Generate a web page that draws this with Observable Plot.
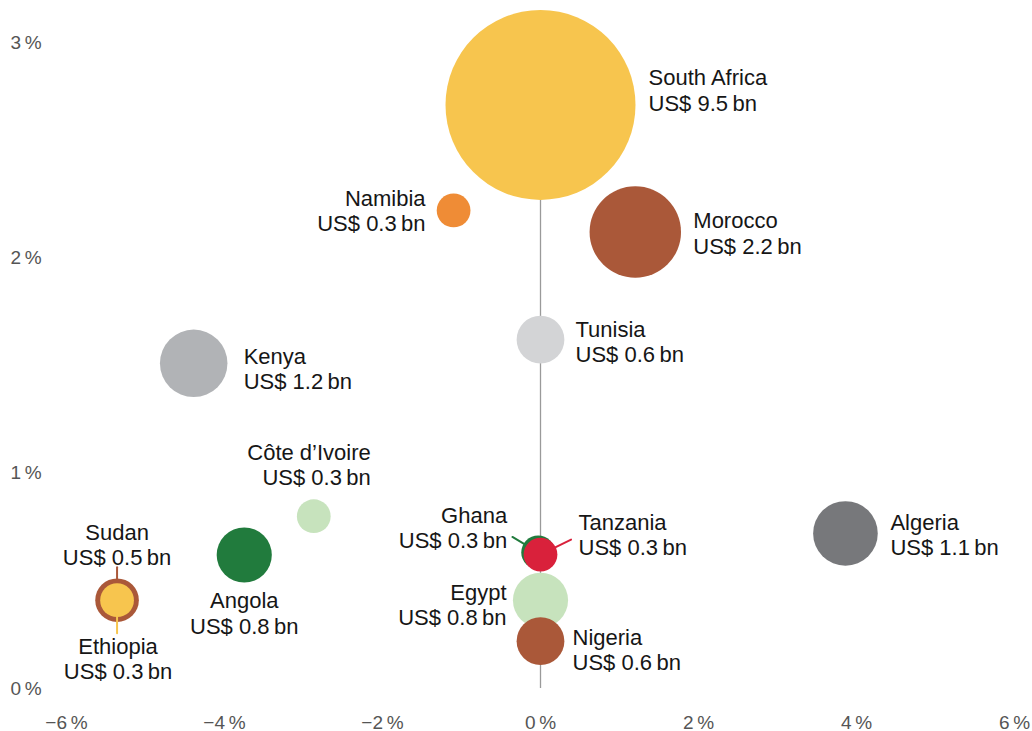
<!DOCTYPE html>
<html>
<head>
<meta charset="utf-8">
<script src="https://cdn.jsdelivr.net/npm/d3@7"></script>
<script src="https://cdn.jsdelivr.net/npm/@observablehq/plot@0.6"></script>
<style>
  html, body { margin: 0; padding: 0; background: #fff; overflow: hidden; }
  #chart svg { display: block; }
</style>
</head>
<body>
<div id="chart"></div>
<script>
// ---- data ----
const countries = ["South Africa", "Morocco", "Namibia", "Tunisia", "Kenya", "Algeria",
  "Côte d’Ivoire", "Angola", "Sudan", "Ethiopia", "Ghana", "Tanzania", "Egypt", "Nigeria"];
const growth = [0, 1.2, -1.1, 0, -4.39, 3.86, -2.87, -3.75, -5.36, -5.36, -0.03, 0, 0, 0];
const share = [2.71, 2.12, 2.22, 1.62, 1.51, 0.72, 0.80, 0.62, 0.41, 0.41, 0.632, 0.622, 0.41, 0.22];
const investment = [9.5, 2.2, 0.3, 0.6, 1.2, 1.1, 0.3, 0.8, 0.5, 0.3, 0.3, 0.3, 0.8, 0.6];
const xTicks = [-6, -4, -2, 0, 2, 4, 6];
const yTicks = [0, 1, 2, 3];

// ---- styles ----
const palette = {
  "South Africa": "#f7c54e", "Morocco": "#aa5839", "Namibia": "#ef8c36", "Tunisia": "#d3d4d6",
  "Kenya": "#b1b3b6", "Algeria": "#77787b", "Côte d’Ivoire": "#c7e3bd", "Angola": "#217b3d",
  "Sudan": "#aa5839", "Ethiopia": "#f7c54e", "Ghana": "#217b3d", "Tanzania": "#d9213b",
  "Egypt": "#c7e3bd", "Nigeria": "#aa5839"
};
const labelLayout = {
  "South Africa": {dx: 108, dy: -15, textAnchor: "start"},
  "Morocco": {dx: 58, dy: 1, textAnchor: "start"},
  "Namibia": {dx: -28, dy: 0, textAnchor: "end"},
  "Tunisia": {dx: 35, dy: 2, textAnchor: "start"},
  "Kenya": {dx: 50, dy: 5, textAnchor: "start"},
  "Algeria": {dx: 45, dy: 1, textAnchor: "start"},
  "Côte d’Ivoire": {dx: 57, dy: -52, textAnchor: "end"},
  "Angola": {dx: 0, dy: 58, textAnchor: "middle"},
  "Sudan": {dx: 0, dy: -56, textAnchor: "middle"},
  "Ethiopia": {dx: 1, dy: 58, textAnchor: "middle"},
  "Ghana": {dx: -31, dy: -25, textAnchor: "end"},
  "Tanzania": {dx: 38, dy: -20, textAnchor: "start"},
  "Egypt": {dx: -34, dy: 4, textAnchor: "end"},
  "Nigeria": {dx: 32, dy: 8, textAnchor: "start"}
};
const leaders = {
  "Sudan": {rotate: 0, length: 33},
  "Ethiopia": {rotate: 180, length: 33},
  "Ghana": {rotate: -59, length: 30},
  "Tanzania": {rotate: 64, length: 34}
};
const lineShape = {draw(ctx, l) { ctx.moveTo(0, 0); ctx.lineTo(0, -l); }};

const data = countries.map((c, i) => ({country: c, x: growth[i], y: share[i], v: investment[i]}));
const largest = data.find(d => d.country === "South Africa");

const fmt = d => `${d < 0 ? "\u2212" : ""}${Math.abs(d)}\u2009%`;

const marks = [
  Plot.ruleX([0], {y1: 0, y2: largest.y, stroke: "#9a9a9a", strokeWidth: 1.3})
];
for (const d of data) {
  const L = leaders[d.country];
  if (L) {
    marks.push(Plot.vector([d], {x: "x", y: "y", anchor: "start", length: L.length, rotate: L.rotate,
      shape: lineShape, stroke: palette[d.country], strokeWidth: 2}));
  }
  marks.push(Plot.dot([d], {x: "x", y: "y", r: "v", fill: palette[d.country], stroke: "none"}));
}
for (const d of data) {
  const lay = labelLayout[d.country];
  marks.push(Plot.text([d], {
    x: "x", y: "y",
    text: e => `${e.country}\nUS$ ${e.v.toFixed(1)}\u2009bn`,
    dx: lay.dx, dy: lay.dy, textAnchor: lay.textAnchor,
    lineAnchor: "middle", lineHeight: 1.15, fontSize: 22, fill: "#161616"
  }));
}
marks.push(Plot.axisX(xTicks, {tickSize: 0, tickPadding: 27, tickFormat: fmt, fontSize: 19, color: "#555", label: null}));
marks.push(Plot.axisY(yTicks, {anchor: "left", tickSize: 0, tickPadding: 0, textAnchor: "start", dx: -56,
  tickFormat: fmt, fontSize: 19, color: "#555", label: null}));

const chart = Plot.plot({
  width: 1032, height: 731,
  marginTop: 42, marginBottom: 43, marginLeft: 66, marginRight: 18,
  x: {domain: [-6, 6], label: null},
  y: {domain: [0, 3], label: null},
  r: {type: "sqrt", domain: [0, 9.5], range: [0, 95]},
  style: {fontFamily: "'Liberation Sans', Arial, sans-serif", fontSize: "19px", background: "#fff", overflow: "visible"},
  marks
});
document.getElementById("chart").appendChild(chart);
</script>
</body>
</html>
